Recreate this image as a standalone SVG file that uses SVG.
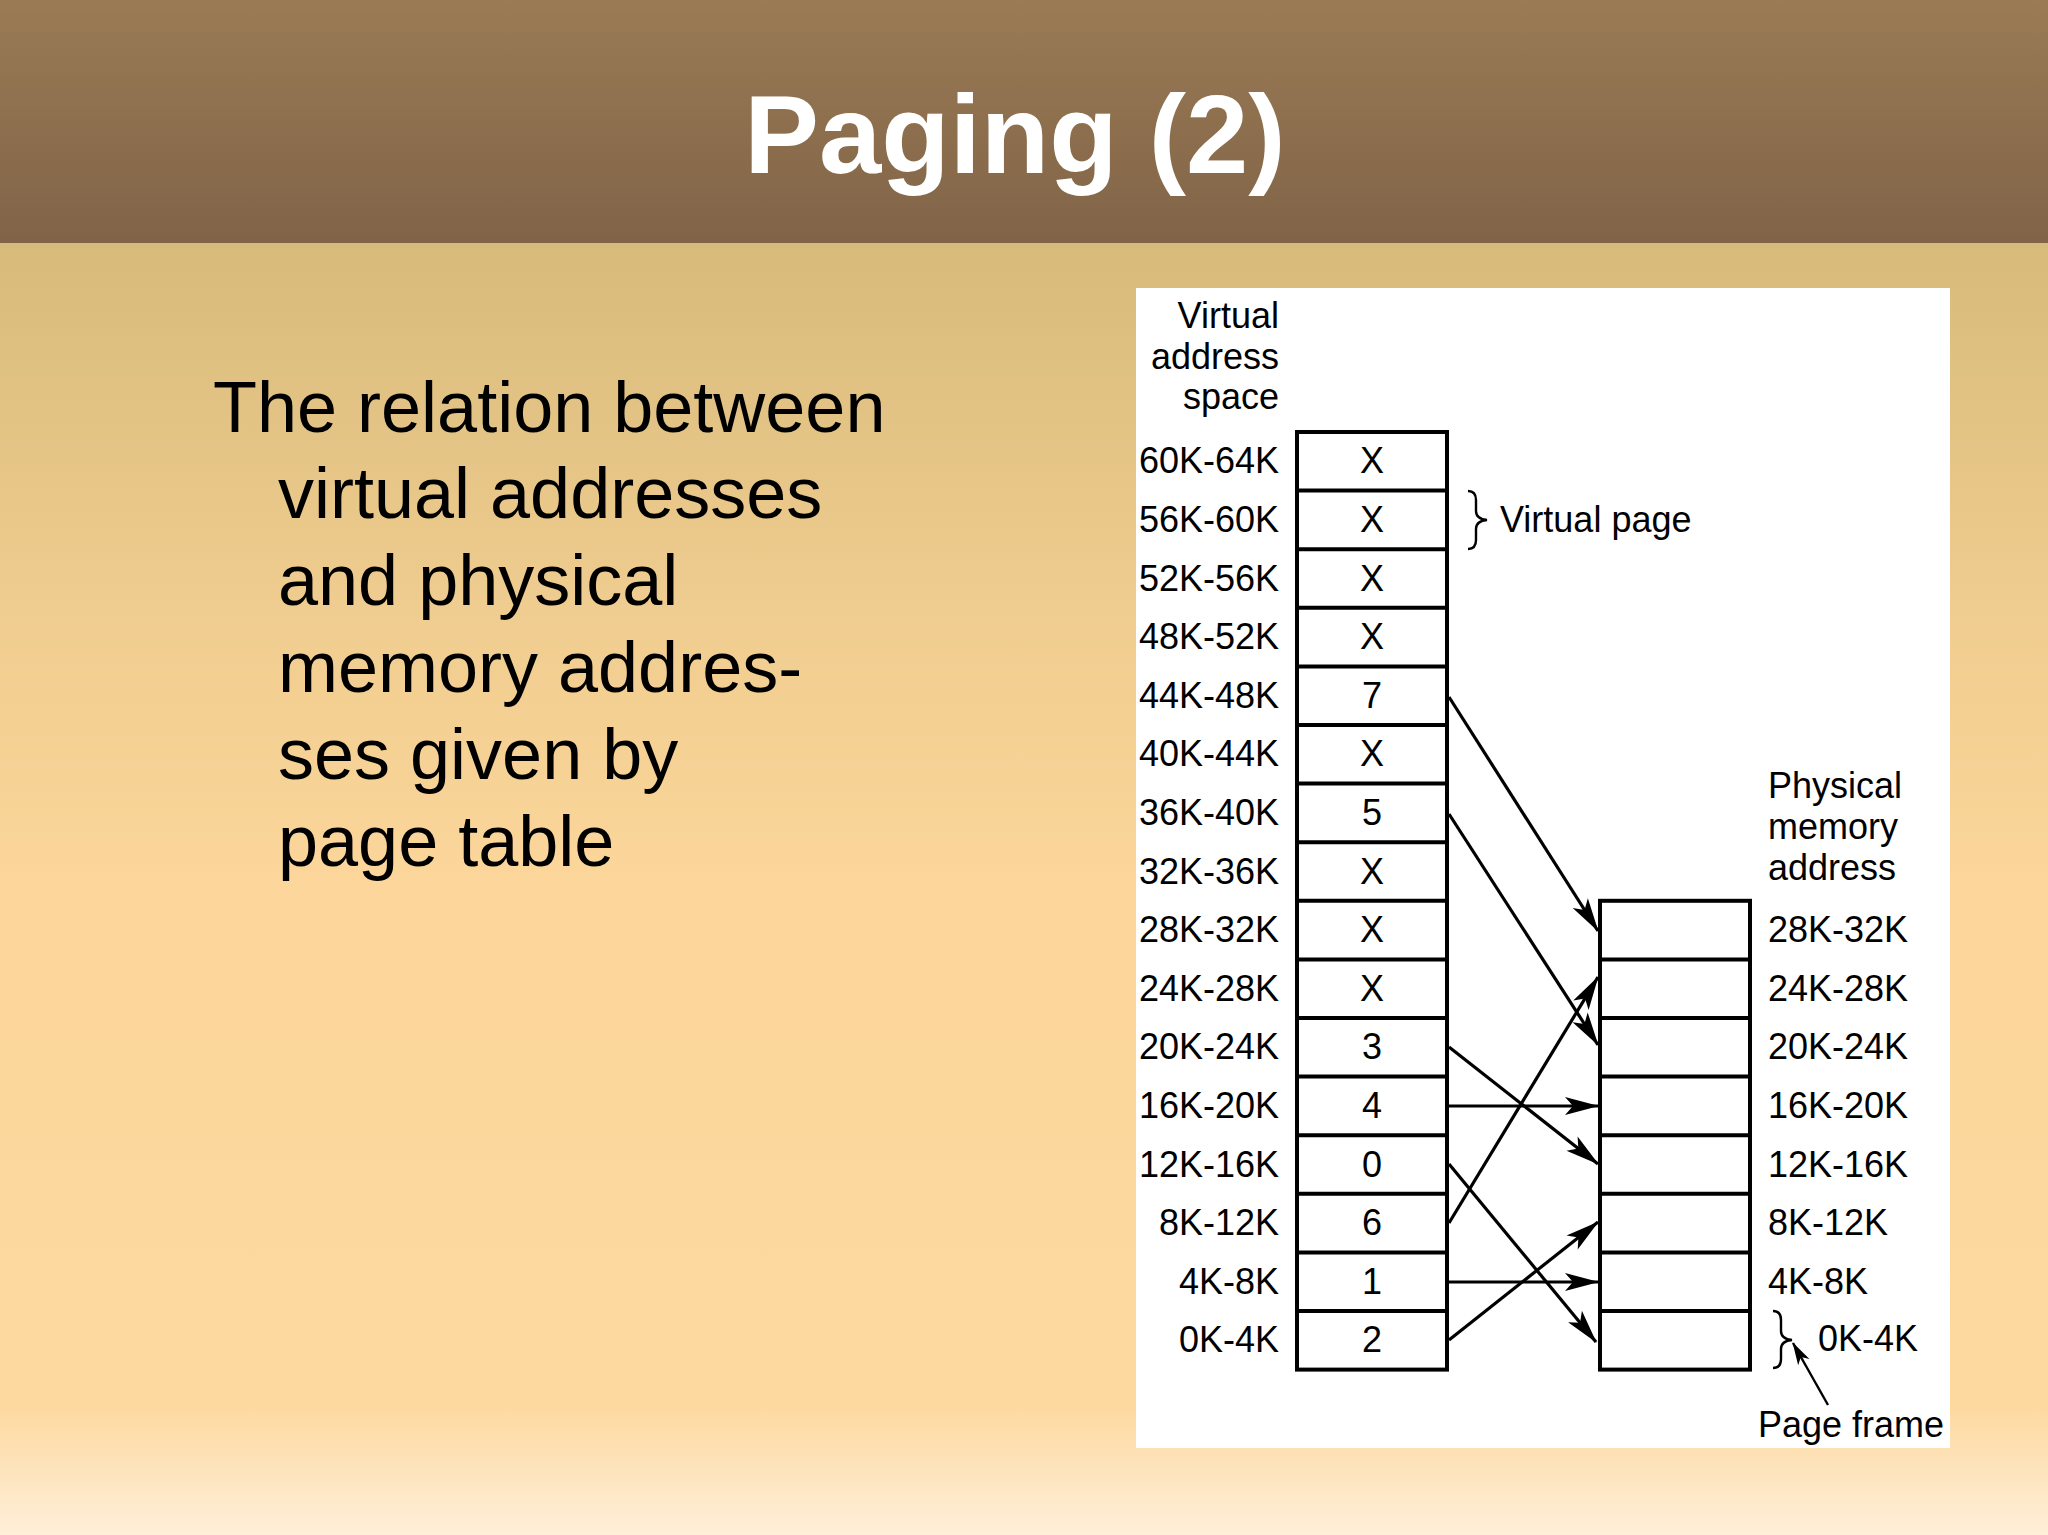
<svg xmlns="http://www.w3.org/2000/svg" width="2048" height="1535" viewBox="0 0 2048 1535">
<defs>
<linearGradient id="hdr" x1="0" y1="0" x2="0" y2="243" gradientUnits="userSpaceOnUse">
<stop offset="0" stop-color="#9a7b55"/>
<stop offset="1" stop-color="#816448"/>
</linearGradient>
<linearGradient id="body" x1="0" y1="243" x2="0" y2="1535" gradientUnits="userSpaceOnUse">
<stop offset="0" stop-color="#d7bb7b"/>
<stop offset="0.28" stop-color="#efcc8f"/>
<stop offset="0.5" stop-color="#fcd69a"/>
<stop offset="0.9" stop-color="#fdd9a0"/>
<stop offset="1" stop-color="#feefd9"/>
</linearGradient>
<marker id="ah" viewBox="-36 -11 38 22" refX="0" refY="0" markerWidth="38" markerHeight="22" markerUnits="userSpaceOnUse" orient="auto">
<path d="M1,0 L-33,-9 L-25,0 L-33,9 Z" fill="#000"/>
</marker>
<marker id="ahs" viewBox="-24 -8 26 16" refX="0" refY="0" markerWidth="26" markerHeight="16" markerUnits="userSpaceOnUse" orient="auto">
<path d="M1,0 L-22,-6.5 L-16,0 L-22,6.5 Z" fill="#000"/>
</marker>
</defs>
<style>
.t{font-family:"Liberation Sans",Arial,Helvetica,sans-serif;fill:#000}
.d{font-size:36px}
.r{text-anchor:end}
.m{text-anchor:middle}
.box{fill:#fff;stroke:#000;stroke-width:4}
.ln{stroke:#000;stroke-width:4}
.ar{stroke:#000;stroke-width:3.2;fill:none;marker-end:url(#ah)}
.br{stroke:#000;stroke-width:2.4;fill:none}
</style>

<rect x="0" y="0" width="2048" height="1535" fill="url(#body)"/>
<rect x="0" y="0" width="2048" height="243" fill="url(#hdr)"/>
<text x="1015" y="173" text-anchor="middle" font-family="Liberation Sans,Arial,sans-serif" font-weight="bold" font-size="112" fill="#fff">Paging (2)</text>

<g id="bullet-text" class="t" font-size="72">
<text x="213" y="432">The relation between</text>
<text x="278" y="518">virtual addresses</text>
<text x="278" y="605">and physical</text>
<text x="278" y="692">memory addres-</text>
<text x="278" y="779">ses given by</text>
<text x="278" y="866">page table</text>
</g>

<rect id="panel" x="1136" y="288" width="814" height="1160" fill="#fff"/>

<g id="virtual-title" class="t d r">
<text x="1279" y="328">Virtual</text>
<text x="1279" y="369">address</text>
<text x="1279" y="409">space</text>
</g>

<g id="virtual-table">
<rect class="box" x="1297" y="432" width="150" height="937.6"/>
<path class="ln" d="M1297,490.6H1447M1297,549.2H1447M1297,607.8H1447M1297,666.4H1447M1297,725H1447M1297,783.6H1447M1297,842.2H1447M1297,900.8H1447M1297,959.4H1447M1297,1018H1447M1297,1076.6H1447M1297,1135.2H1447M1297,1193.8H1447M1297,1252.4H1447M1297,1311H1447"/>
<g class="t d m">
<text x="1372" y="473.3">X</text>
<text x="1372" y="531.9">X</text>
<text x="1372" y="590.5">X</text>
<text x="1372" y="649.1">X</text>
<text x="1372" y="707.7">7</text>
<text x="1372" y="766.3">X</text>
<text x="1372" y="824.9">5</text>
<text x="1372" y="883.5">X</text>
<text x="1372" y="942.1">X</text>
<text x="1372" y="1000.7">X</text>
<text x="1372" y="1059.3">3</text>
<text x="1372" y="1117.9">4</text>
<text x="1372" y="1176.5">0</text>
<text x="1372" y="1235.1">6</text>
<text x="1372" y="1293.7">1</text>
<text x="1372" y="1352.3">2</text>
</g>
<g class="t d r">
<text x="1279" y="473.3">60K-64K</text>
<text x="1279" y="531.9">56K-60K</text>
<text x="1279" y="590.5">52K-56K</text>
<text x="1279" y="649.1">48K-52K</text>
<text x="1279" y="707.7">44K-48K</text>
<text x="1279" y="766.3">40K-44K</text>
<text x="1279" y="824.9">36K-40K</text>
<text x="1279" y="883.5">32K-36K</text>
<text x="1279" y="942.1">28K-32K</text>
<text x="1279" y="1000.7">24K-28K</text>
<text x="1279" y="1059.3">20K-24K</text>
<text x="1279" y="1117.9">16K-20K</text>
<text x="1279" y="1176.5">12K-16K</text>
<text x="1279" y="1235.1">8K-12K</text>
<text x="1279" y="1293.7">4K-8K</text>
<text x="1279" y="1352.3">0K-4K</text>
</g>
</g>

<g id="virtual-page-label">
<path class="br" d="M1468,491 q8,0 8,9 v11 q0,8 11,9 q-11,1 -11,9 v11 q0,9 -8,9"/>
<text class="t d" x="1500" y="532">Virtual page</text>
</g>

<g id="physical-title" class="t d">
<text x="1768" y="798">Physical</text>
<text x="1768" y="839">memory</text>
<text x="1768" y="880">address</text>
</g>

<g id="physical-table">
<rect class="box" x="1600" y="900.8" width="150" height="468.8"/>
<path class="ln" d="M1600,959.4H1750M1600,1018H1750M1600,1076.6H1750M1600,1135.2H1750M1600,1193.8H1750M1600,1252.4H1750M1600,1311H1750"/>
<g class="t d">
<text x="1768" y="942.1">28K-32K</text>
<text x="1768" y="1000.7">24K-28K</text>
<text x="1768" y="1059.3">20K-24K</text>
<text x="1768" y="1117.9">16K-20K</text>
<text x="1768" y="1176.5">12K-16K</text>
<text x="1768" y="1235.1">8K-12K</text>
<text x="1768" y="1293.7">4K-8K</text>
</g>
</g>

<g id="page-frame-label">
<path class="br" d="M1773,1311 q8,0 8,9 v11 q0,8 11,9 q-11,1 -11,9 v10 q0,9 -8,9"/>
<text class="t d" x="1818" y="1351">0K-4K</text>
<text class="t d" x="1758" y="1437">Page frame</text>
</g>

<g id="connectors">
<line class="ar" x1="1449" y1="697" x2="1598" y2="931"/>
<line class="ar" x1="1449" y1="814" x2="1598" y2="1045"/>
<line class="ar" x1="1449" y1="1047" x2="1598" y2="1164"/>
<line class="ar" x1="1449" y1="1106" x2="1598" y2="1106"/>
<line class="ar" x1="1449" y1="1164" x2="1596" y2="1342"/>
<line class="ar" x1="1449" y1="1223" x2="1598" y2="977"/>
<line class="ar" x1="1449" y1="1282" x2="1598" y2="1282"/>
<line class="ar" x1="1449" y1="1340" x2="1598" y2="1222"/>
<line x1="1828" y1="1405" x2="1793" y2="1343" stroke="#000" stroke-width="2.4" marker-end="url(#ahs)"/>
</g>
</svg>
